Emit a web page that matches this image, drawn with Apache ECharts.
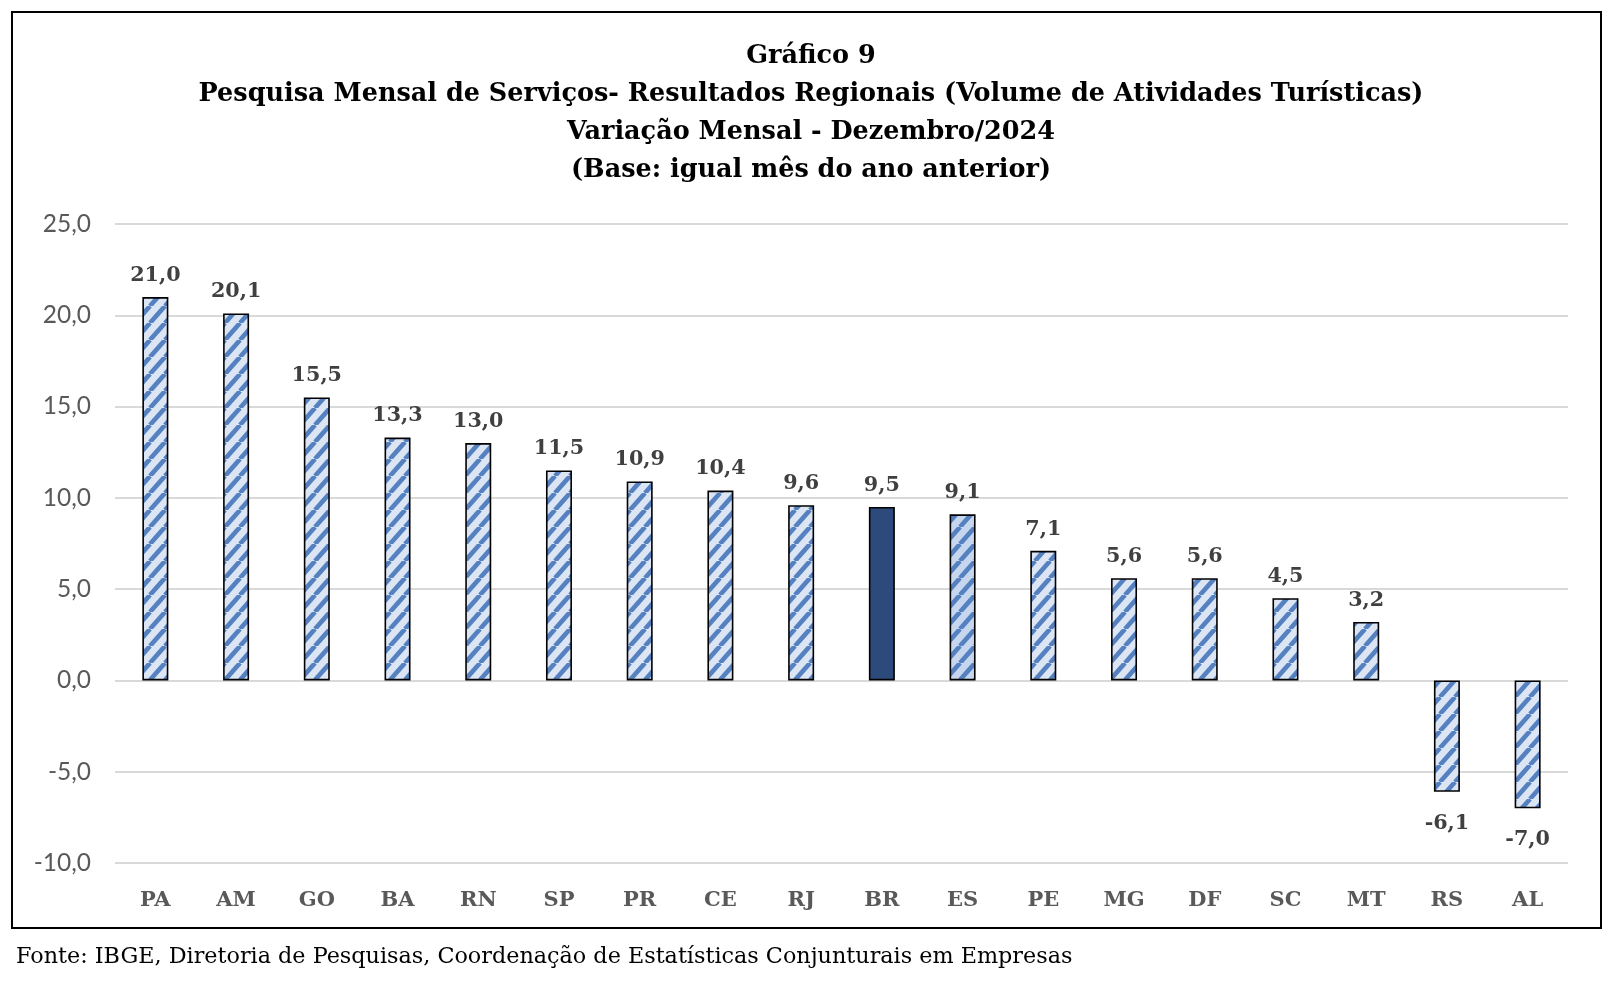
<!DOCTYPE html>
<html><head><meta charset="utf-8">
<script src="https://cdn.jsdelivr.net/npm/echarts@6/dist/echarts.min.js"></script>
<style>html,body{margin:0;padding:0;background:#fff}#c{width:1622px;height:990px}</style>
</head><body><div id="c"></div>
<script>
const categories = ['PA','AM','GO','BA','RN','SP','PR','CE','RJ','BR','ES','PE','MG','DF','SC','MT','RS','AL'];
const values = [21.0,20.1,15.5,13.3,13.0,11.5,10.9,10.4,9.6,9.5,9.1,7.1,5.6,5.6,4.5,3.2,-6.1,-7.0];
const yTicks = {min:-10, max:25, interval:5};
const titleLines = ['Gráfico 9','Pesquisa Mensal de Serviços- Resultados Regionais (Volume de Atividades Turísticas)','Variação Mensal - Dezembro/2024','(Base: igual mês do ano anterior)'];
const sourceText = 'Fonte: IBGE, Diretoria de Pesquisas, Coordenação de Estatísticas Conjunturais em Empresas';
const highlight = 'BR';

function makePattern(bg){
  const w = 15, h = 17;
  const c = document.createElement('canvas'); c.width = w; c.height = h;
  const g = c.getContext('2d');
  g.fillStyle = bg; g.fillRect(0,0,w,h);
  g.strokeStyle = '#5581c0'; g.lineWidth = 4.6;
  g.beginPath();
  for (let k=-1;k<=1;k++){ g.moveTo(k*w, h); g.lineTo(k*w+w, 0); }
  g.stroke();
  return {image: c, repeat: 'repeat'};
}
const pat = makePattern('#dce5f4');
const patES = makePattern('#c6d6ef');
const fmt = v => v.toFixed(1).replace('.', ',');
const serif = '"DejaVu Serif", "Liberation Serif", serif';

const chart = echarts.init(document.getElementById('c'));
chart.setOption({
  animation:false,
  backgroundColor:'#fff',
  title:{
    text: titleLines.join('\n'), left:'center', top:32,
    textStyle:{fontFamily:serif, fontWeight:'bold', fontSize:25.5, lineHeight:38, color:'#000'}
  },
  graphic:[
    {type:'rect', shape:{x:12,y:12,width:1589,height:916}, style:{fill:null, stroke:'#000', lineWidth:2}, z:-1},
    {type:'text', left:16, top:946, style:{text:sourceText, font:'22.3px ' + serif, fill:'#000'}}
  ],
  grid:{left:115, right:54, top:224, bottom:127, containLabel:false},
  xAxis:{
    type:'category', data:categories,
    axisLine:{show:false}, axisTick:{show:false},
    axisLabel:{fontFamily:serif, fontWeight:'bold', fontSize:21, color:'#595959', margin:27}
  },
  yAxis:{
    type:'value', min:yTicks.min, max:yTicks.max, interval:yTicks.interval,
    axisLine:{show:false}, axisTick:{show:false},
    splitLine:{lineStyle:{color:'#d9d9d9', width:2}},
    axisLabel:{formatter:v=>fmt(v), fontFamily:'Lato, "Liberation Sans", sans-serif', fontSize:24.5, color:'#595959', margin:24}
  },
  series:[{
    type:'bar', barWidth:26,
    data: values.map((v,i)=>({
      value:v,
      itemStyle:{color: categories[i]===highlight ? '#2c4a7c' : (categories[i]==='ES' ? patES : pat), borderColor:'#000', borderWidth:1.6},
      label:{position: v<0 ? 'bottom' : 'top', distance: v<0 ? 21 : 11}
    })),
    label:{show:true, formatter:p=>fmt(p.value), fontFamily:serif, fontWeight:'bold', fontSize:20.7, color:'#404040'}
  }]
});
</script></body></html>
